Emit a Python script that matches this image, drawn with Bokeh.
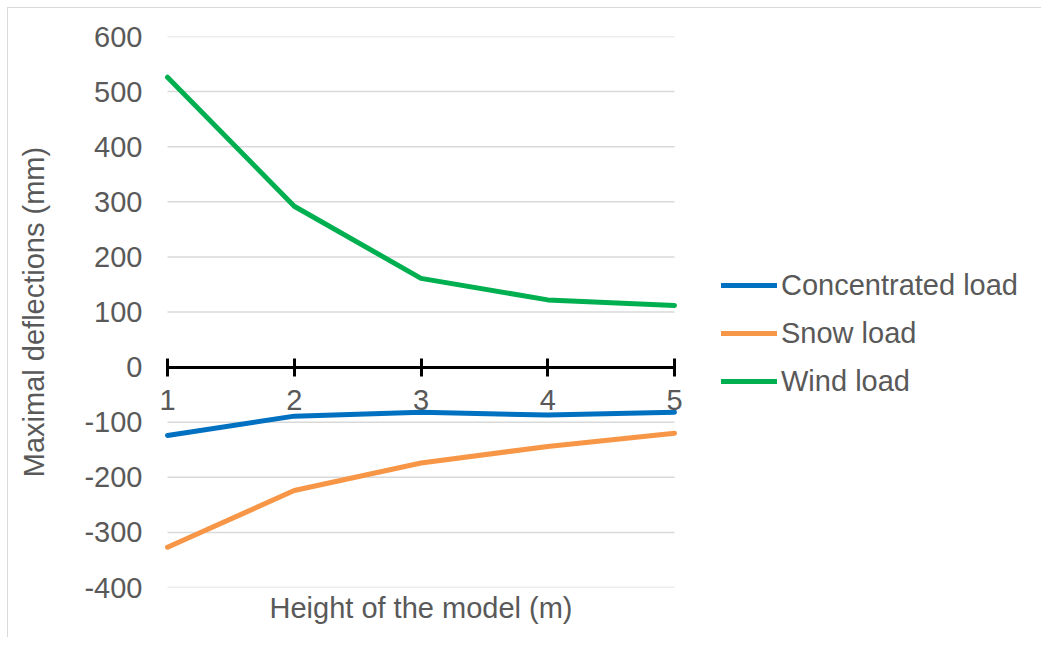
from bokeh.plotting import figure
from bokeh.models import (Range1d, LinearAxis, FixedTicker, Legend, LegendItem, Title,
                          LabelSet, ColumnDataSource)
from bokeh.core.properties import value
from bokeh.embed import file_html
from bokeh.resources import INLINE

# ---- data ----
heights = [1, 2, 3, 4, 5]
x_tick_labels = ["1", "2", "3", "4", "5"]
concentrated = [-124, -89, -82, -87, -82]
snow = [-327, -224, -174, -144, -120]
wind = [526, 292, 161, 122, 112]
y_ticks = [-400, -300, -200, -100, 0, 100, 200, 300, 400, 500, 600]
y_tick_labels = ["-400", "-300", "-200", "-100", "0", "100", "200", "300", "400", "500", "600"]
series_names = ["Concentrated load", "Snow load", "Wind load"]
colors = ["#0070C0", "#F79646", "#00B050"]

FONT = "Liberation Sans"
TXT = "#595959"
FS = "29px"

PAD = 13  # px of frame kept on each side of the 1..5 data span
SPAN_PX = 507
SHIFT = 8  # chart-area border offset
unit = SPAN_PX / (heights[-1] - heights[0])
x0 = heights[0] - PAD / unit
x1 = heights[-1] + PAD / unit

p = figure(frame_width=SPAN_PX + 2 * PAD, frame_height=551, output_backend="svg",
           toolbar_location=None,
           x_range=Range1d(x0, x1), y_range=Range1d(-400, 600),
           x_axis_type=None, y_axis_location="left",
           min_border_left=167 - PAD - SHIFT, min_border_top=36 - SHIFT,
           min_border_bottom=50, min_border_right=0)
p.styles = {"margin-left": "7px", "margin-top": "7px",
            "border-left": "1px solid #D9D9D9", "border-top": "1px solid #D9D9D9"}
p.outline_line_color = None
p.background_fill_color = "white"
p.border_fill_color = "white"
p.xgrid.visible = False
p.ygrid.visible = False

# y axis
ya = p.yaxis[0]
ya.ticker = FixedTicker(ticks=y_ticks)
ya.major_label_overrides = {t: s for t, s in zip(y_ticks, y_tick_labels)}
ya.axis_line_color = None
ya.major_tick_line_color = None
ya.minor_tick_line_color = None
ya.major_label_text_font = FONT
ya.major_label_text_font_size = FS
ya.major_label_text_color = TXT
ya.major_label_standoff = 19 - PAD
ya.axis_label = "Maximal deflections (mm)"
ya.axis_label_text_font = FONT
ya.axis_label_text_font_size = FS
ya.axis_label_text_font_style = "normal"
ya.axis_label_text_color = TXT
ya.axis_label_standoff = 31

# horizontal gridlines spanning the category range only
p.segment(x0=[heights[0]] * len(y_ticks), x1=[heights[-1]] * len(y_ticks),
          y0=y_ticks, y1=y_ticks, line_color="#D9D9D9", line_width=1.5)

# lines
renderers = []
for vals, col in zip([concentrated, snow, wind], colors):
    r = p.line(heights, vals, line_color=col, line_width=5,
               line_join="round", line_cap="round")
    renderers.append(r)

# x axis at y = 0 (line and ticks)
xa = LinearAxis(fixed_location=0, ticker=FixedTicker(ticks=heights),
                bounds=(heights[0], heights[-1]))
xa.axis_line_color = "black"
xa.axis_line_width = 3
xa.major_tick_line_color = "black"
xa.major_tick_line_width = 3
xa.major_tick_in = 9
xa.major_tick_out = 9
xa.minor_tick_line_color = None
xa.major_label_text_font_size = "0px"
xa.major_label_text_color = None
p.add_layout(xa, "below")

# x tick labels
src = ColumnDataSource(dict(x=heights, y=[0] * len(heights), t=x_tick_labels))
labels = LabelSet(x="x", y="y", text="t", source=src, text_align="center",
                  text_baseline="middle", y_offset=-33, text_font=value(FONT),
                  text_font_size=value(FS), text_color=TXT)
p.add_layout(labels)

# x axis title
t = Title(text="Height of the model (m)", align="center", text_font=FONT,
          text_font_size=FS, text_font_style="normal", text_color=TXT, standoff=4)
p.add_layout(t, "below")

legend = Legend(items=[LegendItem(label=n, renderers=[r]) for n, r in zip(series_names, renderers)],
                location=(47 - PAD, 186), label_text_font=FONT, label_text_font_size=FS,
                label_text_color=TXT, glyph_width=56, glyph_height=40, label_height=40,
                label_standoff=4, spacing=8, padding=0, margin=0,
                border_line_color=None, background_fill_alpha=0)
p.add_layout(legend, "right")

open("out.html", "w").write(file_html(p, INLINE))
